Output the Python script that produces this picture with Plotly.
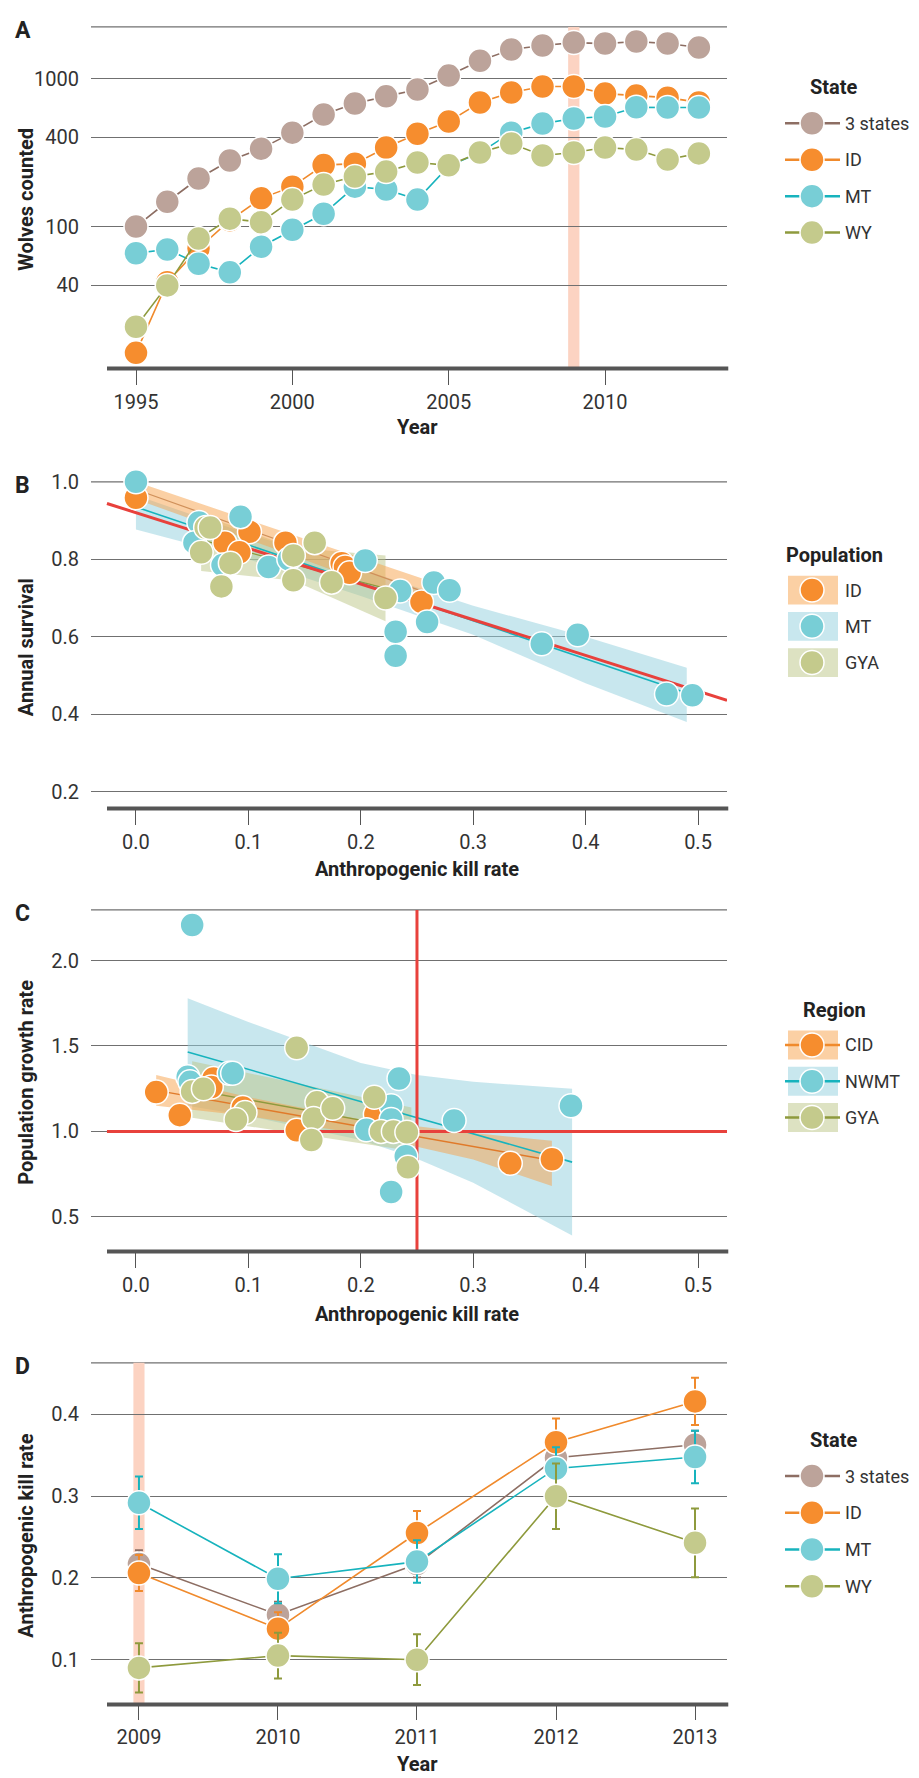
import plotly.graph_objects as go

# ---------------- DATA ----------------
# Panel A: wolves counted per year
years_A = [1995, 1996, 1997, 1998, 1999, 2000, 2001, 2002, 2003, 2004,
           2005, 2006, 2007, 2008, 2009, 2010, 2011, 2012, 2013]
wolves_3states = [100, 147, 211, 279, 336, 431, 571, 678, 758, 843,
                  1047, 1320, 1570, 1671, 1750, 1723, 1778, 1723, 1620]
wolves_ID = [14, 42, 71, 110, 155, 186, 260, 266, 342, 424,
             512, 689, 804, 883, 883, 791, 767, 743, 690]
wolves_MT = [66, 70, 56, 49, 73, 95, 122, 186, 178, 152,
             256, 316, 431, 496, 537, 554, 640, 637, 637]
wolves_WY = [21, 40, 83, 113, 107, 152, 192, 218, 235, 271,
             259, 316, 364, 302, 316, 342, 331, 284, 312]
delisting_year = 2009

# Panel B: annual survival vs anthropogenic kill rate
B_ID_x = [0.0, 0.079, 0.101, 0.092, 0.133, 0.183, 0.186, 0.19, 0.254]
B_ID_y = [0.959, 0.843, 0.871, 0.818, 0.843, 0.79, 0.78, 0.765, 0.69]
B_MT_x = [0.0, 0.056, 0.052, 0.093, 0.077, 0.118, 0.136, 0.204, 0.235,
          0.231, 0.231, 0.265, 0.279, 0.259, 0.361, 0.393, 0.472, 0.495]
B_MT_y = [1.0, 0.895, 0.843, 0.91, 0.785, 0.78, 0.80, 0.797, 0.718,
          0.613, 0.551, 0.74, 0.72, 0.638, 0.582, 0.605, 0.452, 0.449]
B_GYA_x = [0.062, 0.066, 0.058, 0.076, 0.084, 0.14, 0.159, 0.14, 0.174, 0.222]
B_GYA_y = [0.882, 0.882, 0.818, 0.73, 0.79, 0.81, 0.843, 0.746, 0.741, 0.70]

# fitted lines and confidence bands
B_all_fit_x = [-0.0258, 0.5258]
B_all_fit_y = [0.944, 0.436]
B_MT_band_x = [0.0, 0.1, 0.2, 0.3, 0.4, 0.49]
B_MT_fit_y = [0.935, 0.837, 0.739, 0.641, 0.543, 0.455]
B_MT_up = [0.965, 0.865, 0.775, 0.68, 0.60, 0.52]
B_MT_lo = [0.877, 0.80, 0.705, 0.605, 0.48, 0.38]
B_ID_band_x = [0.0, 0.13, 0.26]
B_ID_fit_y = [0.98, 0.846, 0.712]
B_ID_up = [1.0, 0.872, 0.745]
B_ID_lo = [0.955, 0.82, 0.68]
B_GYA_band_x = [0.058, 0.14, 0.222]
B_GYA_fit_y = [0.85, 0.787, 0.725]
B_GYA_up = [0.915, 0.83, 0.81]
B_GYA_lo = [0.77, 0.745, 0.64]

# Panel C: population growth rate vs anthropogenic kill rate
C_CID_x = [0.018, 0.039, 0.069, 0.067, 0.095, 0.143, 0.213, 0.333, 0.37]
C_CID_y = [1.23, 1.095, 1.31, 1.26, 1.14, 1.006, 1.10, 0.813, 0.837]
C_NWMT_x = [0.050, 0.046, 0.048, 0.083, 0.086, 0.234, 0.227, 0.227, 0.205,
            0.24, 0.227, 0.283, 0.387]
C_NWMT_y = [2.208, 1.32, 1.29, 1.34, 1.34, 1.31, 1.15, 1.07, 1.01,
            0.855, 0.645, 1.064, 1.15]
C_GYA_x = [0.050, 0.060, 0.097, 0.089, 0.143, 0.161, 0.158, 0.156, 0.175,
           0.212, 0.218, 0.229, 0.241, 0.242]
C_GYA_y = [1.234, 1.25, 1.11, 1.07, 1.49, 1.17, 1.076, 0.95, 1.135,
           1.2, 1.0, 1.0, 0.995, 0.79]

C_NWMT_band_x = [0.046, 0.1, 0.15, 0.2, 0.25, 0.3, 0.388]
C_NWMT_fit_y = [1.465, 1.363, 1.269, 1.175, 1.08, 0.986, 0.82]
C_NWMT_up = [1.78, 1.64, 1.52, 1.40, 1.33, 1.29, 1.25]
C_NWMT_lo = [1.15, 1.09, 1.02, 0.95, 0.84, 0.70, 0.39]
C_CID_band_x = [0.018, 0.1, 0.2, 0.3, 0.37]
C_CID_fit_y = [1.24, 1.145, 1.028, 0.912, 0.83]
C_CID_up = [1.33, 1.20, 1.07, 0.99, 0.945]
C_CID_lo = [1.15, 1.09, 0.985, 0.835, 0.68]
C_GYA_band_x = [0.05, 0.245]
C_GYA_fit_y = [1.245, 1.012]
C_GYA_up = [1.41, 1.14]
C_GYA_lo = [1.08, 0.885]
C_growth_threshold = 1.0
C_kill_threshold = 0.25

# Panel D: anthropogenic kill rate by year
years_D = [2009, 2010, 2011, 2012, 2013]
kill_3states = [0.217, 0.155, 0.217, 0.347, 0.363]
err_3states = [0.017, 0.016, 0.016, 0.017, 0.017]
kill_ID = [0.206, 0.138, 0.255, 0.366, 0.416]
err_ID = [0.022, 0.020, 0.027, 0.029, 0.029]
kill_MT = [0.292, 0.199, 0.220, 0.334, 0.348]
err_MT = [0.032, 0.030, 0.026, 0.026, 0.032]
kill_WY = [0.090, 0.105, 0.100, 0.300, 0.243]
err_WY = [0.030, 0.028, 0.031, 0.040, 0.042]

# ---------------- STYLE ----------------
W, H = 919, 1778
FONT = "Roboto, Liberation Sans, sans-serif"
TXT = "#333333"
GRID = "#707070"
AXIS = "#555555"
RED = "#e8413c"
BAND_PEACH = "#fcd3c2"

COL = {
    "3 states": dict(line="#8d6e63", marker="#bca39a"),
    "ID": dict(line="#f08a2c", marker="#f68d2e"),
    "MT": dict(line="#17b3bd", marker="#78ced6"),
    "WY": dict(line="#8e9a3d", marker="#c4ca8c"),
}
BANDFILL = {
    "ID": "rgba(247,161,73,0.5)",
    "MT": "rgba(145,207,222,0.5)",
    "GYA": "rgba(187,197,133,0.5)",
}
BOXFILL = {"ID": "#fbd0a4", "MT": "#c8e7ee", "GYA": "#dde2c2"}
MS = 24

# panel pixel geometry (top, bottom)
X_LEFT, X_RIGHT, AX_START = 91, 727, 107
PANELS = {"A": (15, 359), "B": (473, 802), "C": (904, 1248), "D": (1360, 1704)}


def ydom(p):
    t, b = PANELS[p]
    return [1 - b / H, 1 - t / H]


xdom = [X_LEFT / W, X_RIGHT / W]

fig = go.Figure()


def marker_trace(x, y, key, xa, ya, mode="markers", err=None):
    c = COL[key]
    kw = {}
    if err is not None:
        kw["error_y"] = dict(type="data", array=err, visible=True,
                             color=c["line"], thickness=2, width=4)
    return go.Scatter(
        x=x, y=y, mode=mode, xaxis=xa, yaxis=ya, cliponaxis=False,
        line=dict(color=c["line"], width=1.6),
        marker=dict(size=MS, color=c["marker"], line=dict(color="white", width=1.5)),
        showlegend=False, hoverinfo="skip", **kw)


def band(x, up, lo, fill, xa, ya):
    return go.Scatter(x=list(x) + list(x)[::-1], y=list(up) + list(lo)[::-1],
                      fill="toself", fillcolor=fill, mode="lines",
                      line=dict(width=0), xaxis=xa, yaxis=ya,
                      showlegend=False, hoverinfo="skip")


def fitline(x, y, color, width, xa, ya):
    return go.Scatter(x=x, y=y, mode="lines", line=dict(color=color, width=width),
                      xaxis=xa, yaxis=ya, showlegend=False, hoverinfo="skip",
                      cliponaxis=False)


# ---- Panel A ----
for key, vals in [("3 states", wolves_3states), ("ID", wolves_ID),
                  ("MT", wolves_MT), ("WY", wolves_WY)]:
    fig.add_trace(marker_trace(years_A, vals, key, "x", "y", mode="lines+markers"))

# ---- Panel B ----
fig.add_trace(band(B_MT_band_x, B_MT_up, B_MT_lo, BANDFILL["MT"], "x2", "y2"))
fig.add_trace(band(B_GYA_band_x, B_GYA_up, B_GYA_lo, BANDFILL["GYA"], "x2", "y2"))
fig.add_trace(band(B_ID_band_x, B_ID_up, B_ID_lo, BANDFILL["ID"], "x2", "y2"))
fig.add_trace(fitline(B_MT_band_x, B_MT_fit_y, COL["MT"]["line"], 1.6, "x2", "y2"))
fig.add_trace(fitline(B_GYA_band_x, B_GYA_fit_y, COL["WY"]["line"], 1.2, "x2", "y2"))
fig.add_trace(fitline(B_ID_band_x, B_ID_fit_y, "#d0905a", 1.2, "x2", "y2"))
fig.add_trace(fitline(B_all_fit_x, B_all_fit_y, RED, 3, "x2", "y2"))
fig.add_trace(marker_trace(B_ID_x, B_ID_y, "ID", "x2", "y2"))
fig.add_trace(marker_trace(B_MT_x, B_MT_y, "MT", "x2", "y2"))
fig.add_trace(marker_trace(B_GYA_x, B_GYA_y, "WY", "x2", "y2"))

# ---- Panel C ----
XR_BC = [-0.04, 0.5258]
YR_C = [0.2965, 2.2965]
fig.add_trace(band(C_NWMT_band_x, C_NWMT_up, C_NWMT_lo, BANDFILL["MT"], "x3", "y3"))
fig.add_trace(band(C_GYA_band_x, C_GYA_up, C_GYA_lo, BANDFILL["GYA"], "x3", "y3"))
fig.add_trace(band(C_CID_band_x, C_CID_up, C_CID_lo, BANDFILL["ID"], "x3", "y3"))
fig.add_trace(fitline(C_NWMT_band_x, C_NWMT_fit_y, COL["MT"]["line"], 1.6, "x3", "y3"))
fig.add_trace(fitline(C_GYA_band_x, C_GYA_fit_y, COL["WY"]["line"], 1.4, "x3", "y3"))
fig.add_trace(fitline(C_CID_band_x, C_CID_fit_y, "#e07a2a", 1.4, "x3", "y3"))
fig.add_trace(fitline([-0.0258, XR_BC[1]], [C_growth_threshold] * 2, RED, 3, "x3", "y3"))
fig.add_trace(fitline([C_kill_threshold] * 2, YR_C, RED, 3, "x3", "y3"))
fig.add_trace(marker_trace(C_CID_x, C_CID_y, "ID", "x3", "y3"))
fig.add_trace(marker_trace(C_NWMT_x, C_NWMT_y, "MT", "x3", "y3"))
fig.add_trace(marker_trace(C_GYA_x, C_GYA_y, "WY", "x3", "y3"))

# ---- Panel D ----
for key, vals, err in [("3 states", kill_3states, err_3states), ("ID", kill_ID, err_ID),
                       ("MT", kill_MT, err_MT), ("WY", kill_WY, err_WY)]:
    fig.add_trace(marker_trace(years_D, vals, key, "x4", "y4", mode="lines+markers", err=err))

# ---------------- AXES ----------------
tickfont = dict(family=FONT, size=20, color=TXT)


def xax(rng, tickvals, ticktext, anchor):
    return dict(domain=xdom, range=rng, tickvals=tickvals, ticktext=ticktext,
                showgrid=False, zeroline=False, showline=False, ticks="outside",
                ticklen=15, tickwidth=1.3, tickcolor=AXIS, tickfont=tickfont,
                anchor=anchor, fixedrange=True)


def yax(rng, tickvals, ticktext, anchor, key, typ="linear"):
    return dict(domain=ydom(key), range=rng, type=typ, tickvals=tickvals,
                ticktext=ticktext, showgrid=True, gridcolor=GRID, gridwidth=1.3,
                zeroline=False, showline=False, ticks="outside", ticklen=7,
                tickcolor="rgba(0,0,0,0)",
                tickfont=tickfont, anchor=anchor, fixedrange=True)


bc_ticks = [0.0, 0.1, 0.2, 0.3, 0.4, 0.5]
bc_text = ["0.0", "0.1", "0.2", "0.3", "0.4", "0.5"]

fig.update_layout(
    xaxis=xax([1993.561, 2013.90], [1995, 2000, 2005, 2010],
              ["1995", "2000", "2005", "2010"], "y"),
    yaxis=yax([1.040, 3.349], [40, 100, 400, 1000], ["40", "100", "400", "1000"],
              "x", "A", typ="log"),
    xaxis2=xax(XR_BC, bc_ticks, bc_text, "y2"),
    yaxis2=yax([0.1564, 1.0], [0.2, 0.4, 0.6, 0.8, 1.0],
               ["0.2", "0.4", "0.6", "0.8", "1.0"], "x2", "B"),
    xaxis3=xax(XR_BC, bc_ticks, bc_text, "y3"),
    yaxis3=yax(YR_C, [0.5, 1.0, 1.5, 2.0], ["0.5", "1.0", "1.5", "2.0"], "x3", "C"),
    xaxis4=xax([2008.655, 2013.23], years_D, [str(y) for y in years_D], "y4"),
    yaxis4=yax([0.0452, 0.4632], [0.1, 0.2, 0.3, 0.4], ["0.1", "0.2", "0.3", "0.4"],
               "x4", "D"),
)

# ---------------- SHAPES ----------------
shapes = []
ax_start = (AX_START - X_LEFT) / (X_RIGHT - X_LEFT)
for i, key in enumerate(["A", "B", "C", "D"]):
    sfx = "" if i == 0 else str(i + 1)
    xr, yr = "x" + sfx + " domain", "y" + sfx + " domain"
    shapes.append(dict(type="line", xref=xr, yref=yr, x0=0, x1=1, y0=1, y1=1,
                       line=dict(color=GRID, width=1.3), layer="below"))
    shapes.append(dict(type="line", xref=xr, yref=yr, x0=ax_start, x1=1.002, y0=0, y1=0,
                       line=dict(color=AXIS, width=4), layer="above"))

# delisting year bands (panels A and D)
shapes.append(dict(type="rect", xref="x", yref="y domain", x0=delisting_year - 0.18,
                   x1=delisting_year + 0.18, y0=0, y1=1, fillcolor=BAND_PEACH,
                   line=dict(width=0), layer="below"))
shapes.append(dict(type="rect", xref="x4", yref="y4 domain", x0=delisting_year - 0.04,
                   x1=delisting_year + 0.04, y0=0, y1=1, fillcolor=BAND_PEACH,
                   line=dict(width=0), layer="below"))


# ---------------- LEGENDS / LABELS (paper coords from pixels) ----------------
def px(x):
    return x / W


def py(y):
    return 1 - y / H


annotations = []
leg_title_x = 834


def add_text(x, y, text, size=18, bold=False, xanchor="left", angle=0, color=TXT):
    annotations.append(dict(
        xref="paper", yref="paper", x=px(x), y=py(y),
        text=("<b>%s</b>" % text) if bold else text,
        showarrow=False, xanchor=xanchor, yanchor="middle", textangle=angle,
        font=dict(family=FONT, size=size, color=color)))


def legend(title, title_y, first_y, step, entries, box=False, line=True):
    add_text(leg_title_x, title_y, title, size=20, bold=True, xanchor="center",
             color="#222222")
    for j, (label, key, boxkey) in enumerate(entries):
        yy = first_y + j * step
        if box:
            shapes.append(dict(type="rect", xref="paper", yref="paper", x0=px(788),
                               x1=px(838), y0=py(yy - 14.5), y1=py(yy + 14.5),
                               fillcolor=BOXFILL[boxkey], line=dict(width=0),
                               layer="above"))
        if line:
            shapes.append(dict(type="line", xref="paper", yref="paper", x0=px(785),
                               x1=px(840), y0=py(yy), y1=py(yy),
                               line=dict(color=COL[key]["line"], width=2.5),
                               layer="above"))
        shapes.append(dict(type="circle", xref="paper", yref="paper",
                           xsizemode="pixel", ysizemode="pixel",
                           xanchor=px(812), yanchor=py(yy),
                           x0=-12, x1=12, y0=-12, y1=12,
                           fillcolor=COL[key]["marker"],
                           line=dict(color="white", width=1.5), layer="above"))
        add_text(843, yy, label)


state_entries = [("3 states", "3 states", None), ("ID", "ID", None),
                 ("MT", "MT", None), ("WY", "WY", None)]
legend("State", 76, 112, 36.7, state_entries)
legend("Population", 547, 582, 36.5,
       [("ID", "ID", "ID"), ("MT", "MT", "MT"), ("GYA", "WY", "GYA")], box=True, line=False)
legend("Region", 1005, 1040, 36.5,
       [("CID", "ID", "ID"), ("NWMT", "MT", "MT"), ("GYA", "WY", "GYA")], box=True, line=True)
legend("State", 1438, 1474, 37, state_entries)

# panel letters
for letter, (t, b) in PANELS.items():
    add_text(13, t + 4, letter, size=23, bold=True, color="#222222")

# axis titles
ytitles = {"A": "Wolves counted", "B": "Annual survival",
           "C": "Population growth rate", "D": "Anthropogenic kill rate"}
for key, text in ytitles.items():
    t, b = PANELS[key]
    add_text(26, (t + b) / 2 + 2, text, size=20, bold=True, xanchor="center", angle=-90,
             color="#222222")
xtitles = {"A": ("Year", 418), "B": ("Anthropogenic kill rate", 863),
           "C": ("Anthropogenic kill rate", 1311), "D": ("Year", 1764)}
for key, (text, yy) in xtitles.items():
    add_text(417, yy, text, size=20, bold=True, xanchor="center", color="#222222")

fig.update_layout(
    width=W, height=H, margin=dict(l=0, r=0, t=0, b=0),
    paper_bgcolor="white", plot_bgcolor="white", showlegend=False,
    shapes=shapes, annotations=annotations,
    font=dict(family=FONT, color=TXT),
)

fig.write_html("out.html", config={"displayModeBar": False},
               post_script="document.body.style.margin='0';document.body.style.overflow='hidden';")
